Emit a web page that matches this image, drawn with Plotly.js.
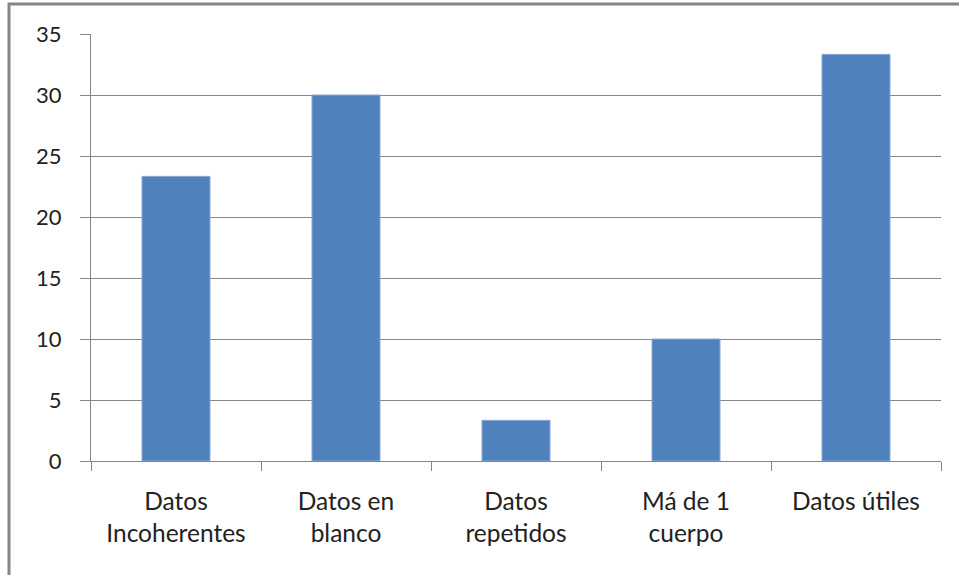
<!DOCTYPE html>
<html>
<head>
<meta charset="utf-8">
<script src="https://cdn.plot.ly/plotly-3.0.1.min.js"></script>
<style>
html,body{margin:0;padding:0;background:#fff;}
#chart{width:959px;height:575px;}
</style>
</head>
<body>
<div id="chart"></div>
<script>
const categories = ["Datos<br>Incoherentes", "Datos en<br>blanco", "Datos<br>repetidos", "Má de 1<br>cuerpo", "Datos útiles"];
const values = [23.33, 30, 3.33, 10, 33.33];
const yTicks = [0, 5, 10, 15, 20, 25, 30, 35];

const trace = {
  type: "bar",
  x: categories,
  y: values,
  marker: {color: "#4F81BD", line: {color: "#8BA9D6", width: 1}},
  hoverinfo: "none"
};

const layout = {
  width: 959, height: 575,
  margin: {l: 91, r: 18, t: 34, b: 114},
  paper_bgcolor: "#fff", plot_bgcolor: "#fff",
  bargap: 0.6,
  showlegend: false,
  font: {family: "Lato, 'Open Sans', sans-serif", size: 24, color: "#222"},
  xaxis: {
    type: "category",
    range: [-0.5, 4.5],
    tickson: "boundaries",
    ticks: "outside", ticklen: 9, tickcolor: "#868686", tickwidth: 1,
    showline: true, linecolor: "#868686", linewidth: 1,
    showgrid: false, zeroline: false,
    ticklabelstandoff: 19,
    tickfont: {size: 24.5}
  },
  yaxis: {
    range: [0, 35],
    tickvals: yTicks,
    ticktext: yTicks.map(String),
    ticks: "outside", ticklen: 10, tickcolor: "#868686", tickwidth: 1,
    showline: true, linecolor: "#868686", linewidth: 1,
    showgrid: true, gridcolor: "#868686", gridwidth: 1,
    zeroline: false,
    ticklabelstandoff: 14,
    tickfont: {size: 22}
  },
  shapes: [{
    type: "rect", xref: "paper", yref: "paper",
    x0: (9 - 91) / 850, x1: (962 - 91) / 850,
    y0: (461 - 580) / 427, y1: (461 - 4) / 427,
    line: {color: "#868686", width: 3}, fillcolor: "rgba(0,0,0,0)", layer: "below"
  }]
};

Plotly.newPlot("chart", [trace], layout, {staticPlot: true, displayModeBar: false});
</script>
</body>
</html>
